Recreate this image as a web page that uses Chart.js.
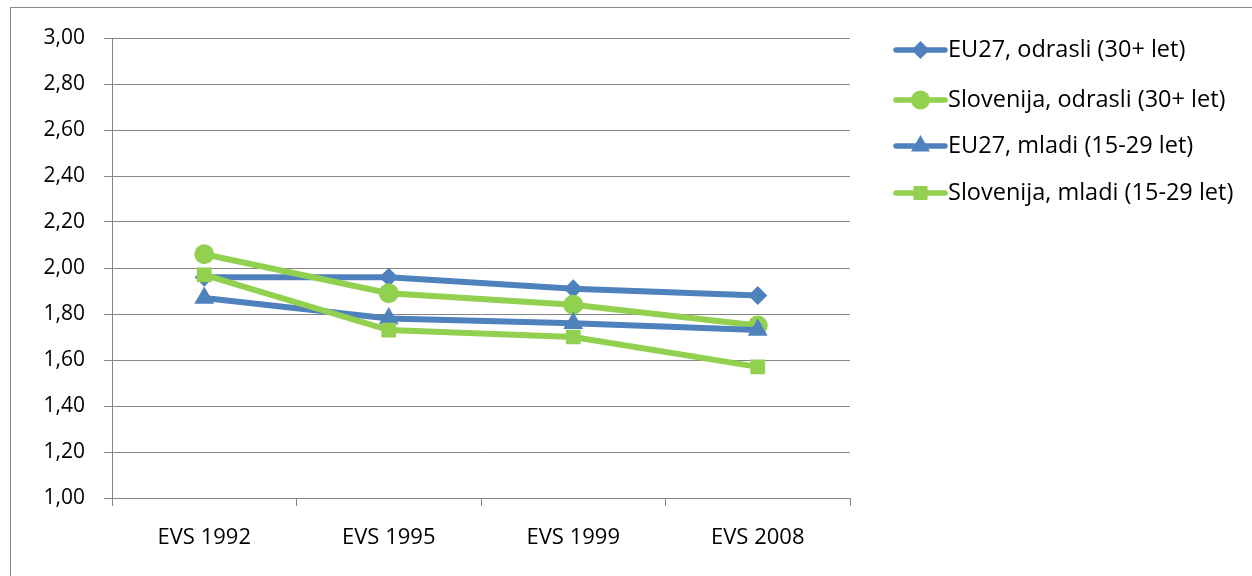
<!DOCTYPE html>
<html><head><meta charset="utf-8">
<script src="https://cdn.jsdelivr.net/npm/chart.js@4.4.0/dist/chart.umd.min.js"></script>
<style>
html,body{margin:0;padding:0;background:#fff;overflow:hidden}
#wrap{position:absolute;left:0;top:0;width:1252px;height:576px}
#frame{position:absolute;left:10px;top:7px;width:1260px;height:600px;border:1px solid #868686;box-sizing:border-box}
canvas{position:absolute;left:0;top:0}
</style></head>
<body>
<div id="wrap"><div id="frame"></div><canvas id="c" width="1252" height="576"></canvas></div>
<script>
const categories = ['EVS 1992','EVS 1995','EVS 1999','EVS 2008'];
const seriesNames = ['EU27, odrasli (30+ let)','Slovenija, odrasli (30+ let)','EU27, mladi (15-29 let)','Slovenija, mladi (15-29 let)'];
const eu27Odrasli = [1.96,1.96,1.91,1.88];
const sloOdrasli = [2.06,1.89,1.84,1.75];
const eu27Mladi = [1.87,1.78,1.76,1.73];
const sloMladi = [1.97,1.73,1.70,1.57];
const yMin = 1.0, yMax = 3.0, yStep = 0.2;

const BLUE = '#4F81BD', GREEN = '#92D050', GRID = '#868686';
const FONT = '"Open Sans", "Liberation Sans", sans-serif';
const styles = [
  {c:BLUE, p:'rectRot', r:9.5},
  {c:GREEN, p:'circle', r:10},
  {c:BLUE, p:'triangle', r:11.5},
  {c:GREEN, p:'rect', r:10.4}
];
const seriesData = [eu27Odrasli, sloOdrasli, eu27Mladi, sloMladi];

const datasets = seriesData.map((d,i)=>({
  label: seriesNames[i], data: d,
  borderColor: styles[i].c, backgroundColor: styles[i].c,
  pointBackgroundColor: styles[i].c, pointBorderColor: styles[i].c,
  borderWidth: 6, pointStyle: styles[i].p, pointRadius: styles[i].r, pointBorderWidth: 0,
  pointHoverRadius: styles[i].r, tension: 0, order: 4 - i
}));

const legendPlugin = {
  id: 'sideLegend',
  afterDraw(chart){
    const ctx = chart.ctx;
    const x0 = 893, lineLen = 55, ys = [50,100,146,193];
    ctx.save();
    datasets.forEach((ds,i)=>{
      const y = ys[i];
      ctx.strokeStyle = ds.borderColor; ctx.lineWidth = 5.5; ctx.lineCap='round';
      ctx.beginPath(); ctx.moveTo(x0+3,y); ctx.lineTo(x0+lineLen-3,y); ctx.stroke();
      ctx.fillStyle = ds.borderColor;
      Chart.helpers.drawPoint(ctx, {pointStyle: ds.pointStyle, radius: ds.pointRadius*0.95, borderWidth:0, rotation:0}, x0+lineLen/2, y);
      ctx.fillStyle = '#000'; ctx.font = '23.5px ' + FONT; ctx.textBaseline='middle'; ctx.textAlign='left';
      ctx.fillText(ds.label, x0+lineLen, y);
    });
    ctx.restore();
  }
};

new Chart(document.getElementById('c'), {
  type: 'line',
  data: { labels: categories, datasets },
  options: {
    responsive: false, animation: false, devicePixelRatio: 1,
    layout: { padding: { left: 0, top: 38, right: 1252-850, bottom: 0 } },
    plugins: { legend: { display: false }, tooltip: { enabled: false } },
    scales: {
      x: {
        offset: true,
        grid: { display: true, drawOnChartArea: false, drawTicks: true, tickLength: 8, color: GRID, offset: true },
        border: { display: true, color: GRID, width: 1 },
        ticks: { color: '#000', font: { family: FONT, size: 22 }, padding: 19, maxRotation: 0 },
        afterFit(s){ s.height = 576 - 498; }
      },
      y: {
        min: yMin, max: yMax,
        grid: { color: GRID, lineWidth: 1, tickLength: 8, drawTicks: true },
        border: { display: true, color: GRID, width: 1 },
        ticks: { stepSize: yStep, color: '#000', font: { family: FONT, size: 21 }, padding: 19,
          callback: v => v.toFixed(2).replace('.', ',') },
        afterFit(s){ s.width = 112; }
      }
    }
  },
  plugins: [legendPlugin]
});
</script>
</body></html>
